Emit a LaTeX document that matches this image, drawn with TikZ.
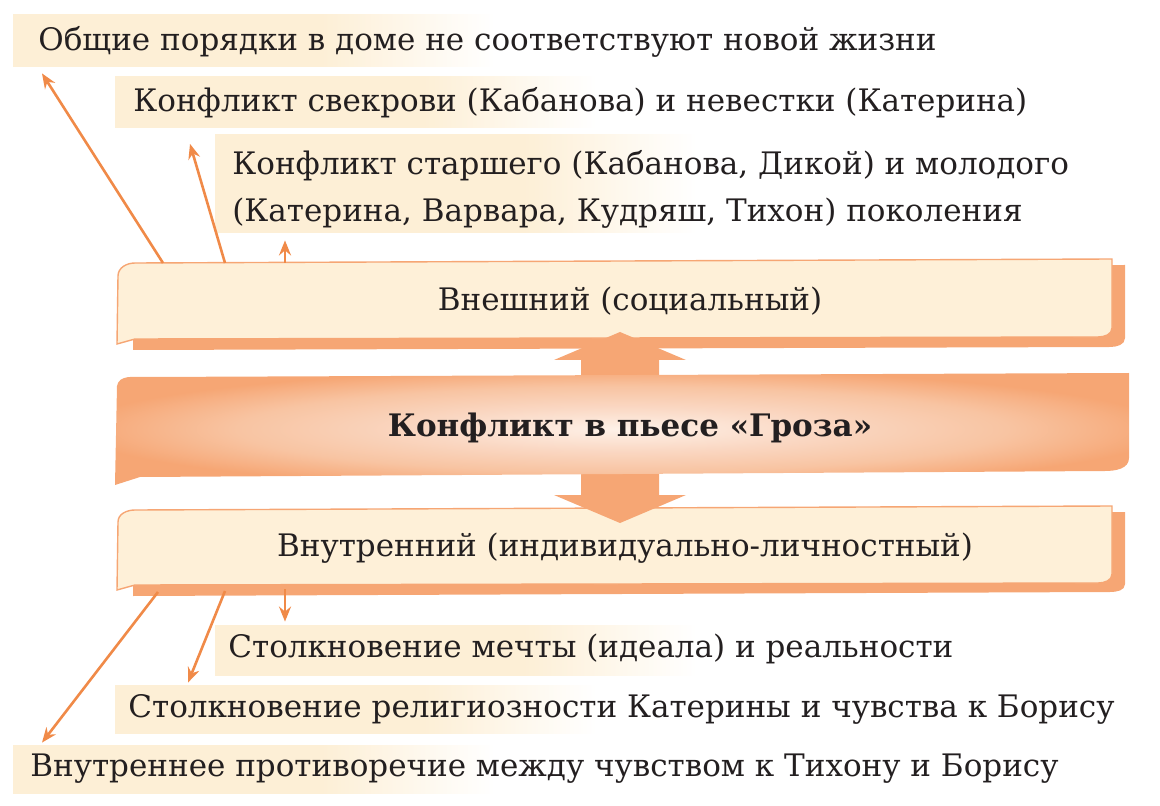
\documentclass[tikz,border=0pt]{standalone}
\usepackage{fontspec}
\setmainfont{DejaVu Serif}
\usetikzlibrary{positioning, arrows.meta, backgrounds}

\definecolor{cream}{HTML}{FDEFD6}
\definecolor{boxfill}{HTML}{FEF0D8}
\definecolor{lineorange}{HTML}{F08A48}
\definecolor{shadeorange}{HTML}{F6A674}
\definecolor{glowmid}{HTML}{F8C4A2}
\definecolor{glowlight}{HTML}{FAD7C2}
\definecolor{glowcenter}{HTML}{FEF1E8}
\definecolor{textdark}{HTML}{231F20}

\pgfdeclarehorizontalshading{bandfade}{100bp}{color(0bp)=(cream); color(25bp)=(cream); color(57bp)=(cream); color(75bp)=(white); color(100bp)=(white)}
\pgfdeclareradialshading{bandglow}{\pgfpoint{0bp}{0bp}}{color(0bp)=(glowcenter); color(10bp)=(glowlight); color(19bp)=(glowmid); color(27bp)=(shadeorange); color(50bp)=(shadeorange)}

\tikzset{
  item/.style={anchor=west, text=textdark, align=left},
  band/.style={shading=bandfade},
  pointer/.style={-{Stealth[length=7.5pt, width=6pt, inset=2.5pt]}, draw=lineorange, line width=1.3pt},
  boxline/.style={fill=boxfill, draw=shadeorange, line width=0.7pt},
  title/.style={text=textdark}
}

\begin{document}
\begin{tikzpicture}[x=0.5pt, y=-0.5pt, font=\fontsize{15.5}{23.5}\selectfont]
  \useasboundingbox (0,0) rectangle (1160,806);

  % vneshnij konflikt
  \node[item, minimum height=26pt, inner xsep=12.5pt] (top1) at (13,42) {Общие порядки в доме не соответствуют новой жизни};
  \node[item, minimum height=25.5pt, inner xsep=9pt] (top2) at (115,103) {Конфликт свекрови (Кабанова) и невестки (Катерина)};
  \node[item, minimum height=49pt, inner xsep=8.5pt] (top3) at (215,189) {Конфликт старшего (Кабанова, Дикой) и молодого\\(Катерина, Варвара, Кудряш, Тихон) поколения};

  % vnutrennij konflikt
  \node[item, minimum height=25pt, inner xsep=6.5pt] (bot1) at (215,649) {Столкновение мечты (идеала) и реальности};
  \node[item, minimum height=24pt, inner xsep=6.5pt] (bot2) at (115,709) {Столкновение религиозности Катерины и чувства к Борису};
  \node[item, minimum height=24pt, inner xsep=8.5pt] (bot3) at (13,769) {Внутреннее противоречие между чувством к Тихону и Борису};

  \begin{scope}[on background layer]
    \shade[band] (13,15) rectangle (495,67);
    \shade[band] (115,77) rectangle (597,128);
    \shade[band] (215,135) rectangle (697,233);
    \shade[band] (215,625) rectangle (697,675);
    \shade[band] (115,685) rectangle (597,733);
    \shade[band] (13,745) rectangle (495,793);
  \end{scope}

  % plashki
  \fill[shadeorange] (133,268) -- (1125,265) -- (1125,338) to[out=-90,in=0] (1110,347) -- (133,350) -- cycle;
  \filldraw[boxline] (117,344) -- (118,276) to[out=90,in=180] (135,263) -- (1112,259) -- (1112,328) to[out=-90,in=0] (1098,337) -- (135,339) -- cycle;
  \fill[shadeorange] (133,515) -- (1125,512) -- (1125,584) to[out=-90,in=0] (1110,592) -- (133,596) -- cycle;
  \filldraw[boxline] (117,590) -- (118,522) to[out=90,in=180] (135,510) -- (1112,506) -- (1112,574) to[out=-90,in=0] (1098,583) -- (135,585) -- cycle;

  % dvojnaja strelka
  \fill[shadeorange] (620,332) -- (686,360) -- (659,360) -- (659,495) -- (686,495) -- (620,523)
    -- (554,495) -- (581,495) -- (581,360) -- (554,360) -- cycle;

  % centralnaja polosa
  \shade[shading=bandglow] (115,485) -- (117,386) to[out=80,in=180] (145,377) -- (1129,373)
    -- (1129,458) to[out=-90,in=0] (1105,471) -- (140,477) -- cycle;

  \node[title] (ext) at (630,301) {Внешний (социальный)};
  \node[title] (int) at (625,548) {Внутренний (индивидуально-личностный)};
  \node[title, font=\fontsize{15.5}{18}\selectfont\bfseries] (main) at (630,428) {Конфликт в пьесе «Гроза»};

  \coordinate (ext1) at (163,263);
  \coordinate (ext2) at (225,263);
  \coordinate (ext3) at (285,263);
  \coordinate (int1) at (158,592);
  \coordinate (int2) at (225,591);
  \coordinate (int3) at (285,589);

  \draw[pointer] (ext1) -- ([xshift=14.5pt, yshift=-2.5pt]top1.south west);
  \draw[pointer] (ext2) -- ([xshift=37.5pt, yshift=-7.5pt]top2.south west);
  \draw[pointer] (ext3) -- ([xshift=35pt, yshift=-1pt]top3.south west);
  \draw[pointer] (int3) -- ([xshift=35pt, yshift=1pt]bot1.north west);
  \draw[pointer] (int2) -- ([xshift=36.5pt, yshift=1pt]bot2.north west);
  \draw[pointer] (int1) -- ([xshift=14.5pt, yshift=1pt]bot3.north west);
\end{tikzpicture}
\end{document}
